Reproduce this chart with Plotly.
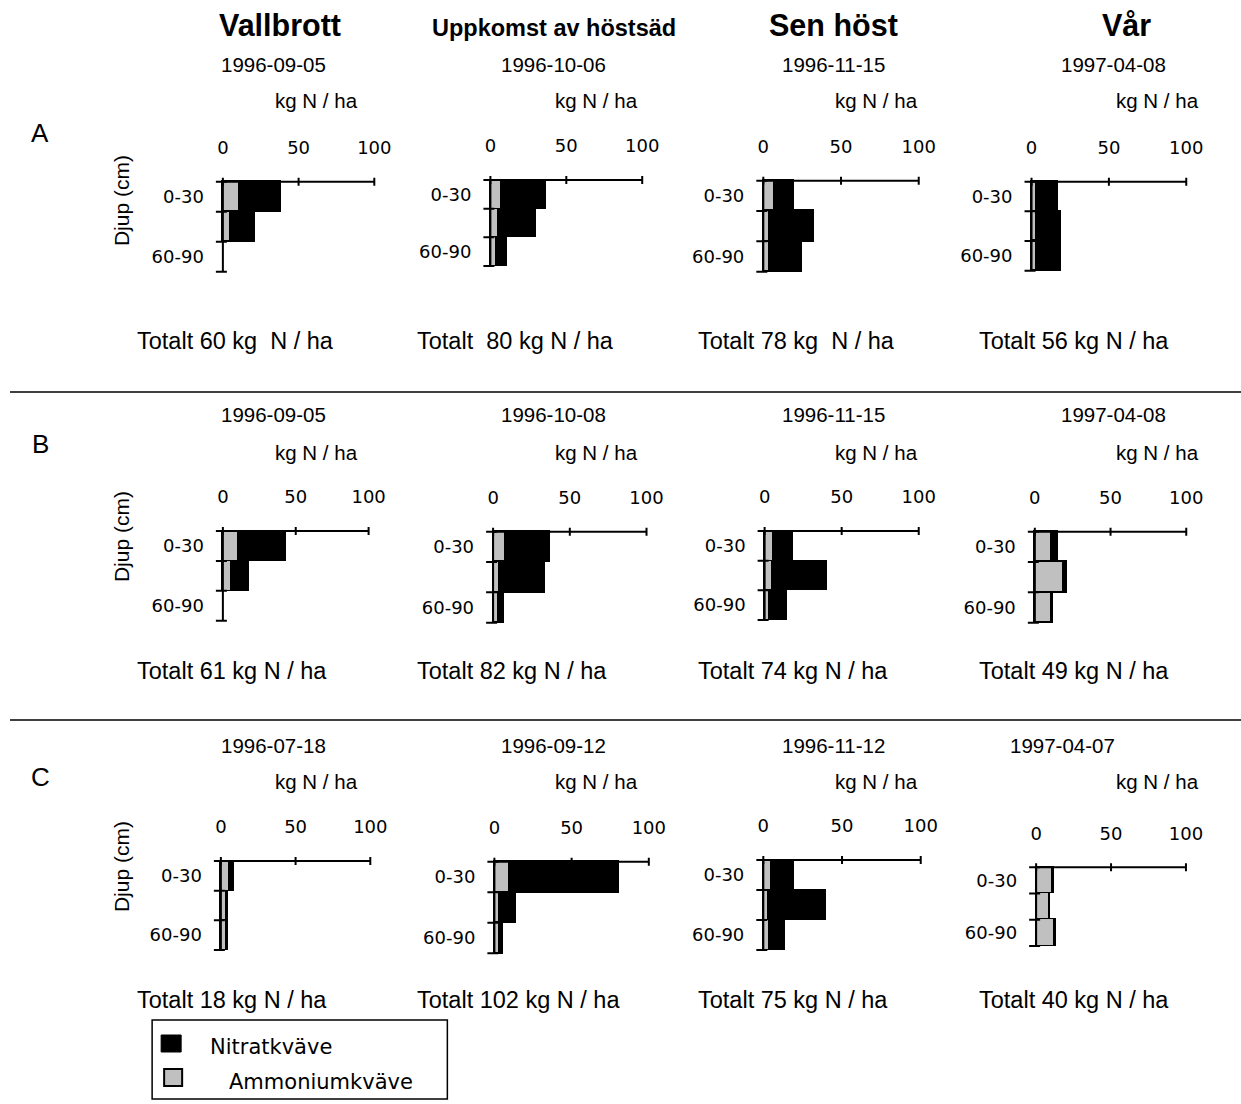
import plotly.graph_objects as go

# canvas size in pixels; horizontal positions below are given on a 1241 px grid
W, H = 1255, 1100
XS = W / 1241.0

# ---- data ---------------------------------------------------------------
ROW_LABELS = ["A", "B", "C"]
HEADERS = ["Vallbrott", "Uppkomst av höstsäd", "Sen höst", "Vår"]
DEPTH_TICKS = ["0-30", "60-90"]
X_TICKS = [0, 50, 100]
UNIT = "kg N / ha"

DATES_A = ["1996-09-05", "1996-10-06", "1996-11-15", "1997-04-08"]
DATES_B = ["1996-09-05", "1996-10-08", "1996-11-15", "1997-04-08"]
DATES_C = ["1996-07-18", "1996-09-12", "1996-11-12", "1997-04-07"]

TOTALS_A = ["Totalt 60 kg\u00a0 N / ha", "Totalt\u00a0 80 kg N / ha",
            "Totalt 78 kg\u00a0 N / ha", "Totalt 56 kg N / ha"]
TOTALS_B = ["Totalt 61 kg N / ha", "Totalt 82 kg N / ha",
            "Totalt 74 kg N / ha", "Totalt 49 kg N / ha"]
TOTALS_C = ["Totalt 18 kg N / ha", "Totalt 102 kg N / ha",
            "Totalt 75 kg N / ha", "Totalt 40 kg N / ha"]

# kg N / ha per depth layer (0-30, 30-60, 60-90), one list per panel
NH4_A = [[11, 5, None], [7, 5, 4], [7, 4, 4], [3, 3, 3]]
NO3_A = [[27, 16, None], [30, 25, 7], [13, 29, 21], [14, 16, 16]]
NH4_B = [[11, 6, None], [8, 4, 3], [6, 5, 3], [11, 19, 11]]
NO3_B = [[32, 12, None], [29, 30, 4], [12, 35, 11], [4, 2, 1]]
NH4_C = [[6, 4, 4], [10, 3, 3], [5, 3, 4], [11, 9, 12]]
NO3_C = [[3, 0.5, 0.5], [71, 11, 3], [15, 37, 10], [1, 0.5, 1.5]]

# ---- panel geometry (pixels) -------------------------------------------
# x pixel of value 0 and value 100 for every panel
X0 = [[222.7, 490, 762.7, 1030.7], [222.7, 492.7, 764, 1034], [220.7, 494, 762.7, 1035.3]]
X100 = [[374, 641.7, 918, 1185.3], [368.3, 646, 918, 1185.3], [370, 648.3, 920, 1185]]
# y pixel of the top of the 0-30 layer and the bottom of the 60-90 layer
YTOP = [[181.7, 180, 180.7, 181.7], [531, 531.7, 531, 531.7], [861, 861.7, 860, 867.3]]
YBOT = [[271.7, 266, 271.7, 270.7], [620.7, 622.7, 620, 622.7], [950, 953.3, 950, 946]]

DATE_CX = [[273, 553, 833, 1113], [273, 553, 833, 1113], [273, 553, 833, 1062]]
UNIT_CX = [316, 596, 876, 1157]
HEADER_CX = [280, 554, 833, 1126]
TOTAL_X = [135, 415, 695, 976]
HEADER_Y = [25, 28, 25, 25]
DATE_Y = [65, 415, 745]
UNIT_Y = [100, 452, 781]
TOTAL_Y = [341, 671, 1000]
LETTER_Y = [133, 444, 777]
DJUP_Y = [201, 537, 867]

GRAY = "#c0c0c0"
AXIS_W = 2
BAR_LINE = 1.5
TICK_FONT = dict(family="DejaVu Sans", size=18, color="black")
TEXT_FONT = "Liberation Sans, Arial, sans-serif"


def fx(xp):
    """Horizontal pixel on the 1241 grid to paper fraction."""
    return xp * XS / W


def fy(yp):
    """Vertical pixel from the top to paper fraction."""
    return 1 - yp / H


nh4 = [NH4_A, NH4_B, NH4_C]
no3 = [NO3_A, NO3_B, NO3_C]
dates = [DATES_A, DATES_B, DATES_C]
totals = [TOTALS_A, TOTALS_B, TOTALS_C]

fig = go.Figure()
shapes = []
annotations = []
layout_axes = {}


def text(xp, yp, s, size, anchor="center", family=TEXT_FONT, **kw):
    annotations.append(dict(x=fx(xp), y=fy(yp), xref="paper", yref="paper", text=s, showarrow=False,
                            xanchor=anchor, yanchor="middle",
                            font=dict(family=family, size=size, color="black"), **kw))


layers = [0.5, 1.5, 2.5]
PAD_L, PAD_R, PAD_V = 10, 4, 6

idx = 0
for r in range(3):
    for c in range(4):
        idx += 1
        xs = "" if idx == 1 else str(idx)
        xa, ya = "x" + xs, "y" + xs
        x0, x100 = X0[r][c], X100[r][c]
        yt, yb = YTOP[r][c], YBOT[r][c]
        u = (x100 - x0) / 100.0
        band = (yb - yt) / 3.0

        # stacked horizontal bars: ammonium first, nitrate on top of it
        fig.add_trace(go.Bar(
            x=nh4[r][c], y=layers, orientation="h", width=1,
            name="Ammoniumkväve", marker=dict(color=GRAY, line=dict(color="black", width=BAR_LINE)),
            xaxis=xa, yaxis=ya, showlegend=False, hoverinfo="x+name"))
        fig.add_trace(go.Bar(
            x=no3[r][c], y=layers, orientation="h", width=1,
            name="Nitratkväve", marker=dict(color="black", line=dict(color="black", width=BAR_LINE)),
            xaxis=xa, yaxis=ya, showlegend=False, hoverinfo="x+name"))

        left = x0 - PAD_L
        right = x100 + PAD_R
        top = yt - PAD_V
        bot = yb + PAD_V
        layout_axes["xaxis" + xs] = dict(
            domain=[fx(left), fx(right)], anchor=ya, side="top",
            range=[-PAD_L / u, 100 + PAD_R / u],
            tickvals=X_TICKS, ticks="", showgrid=False, zeroline=False, showline=False,
            tickfont=TICK_FONT, ticklabelstandoff=17, fixedrange=True)
        layout_axes["yaxis" + xs] = dict(
            domain=[fy(bot), fy(top)], anchor=xa,
            range=[3 + PAD_V / band, -PAD_V / band],
            tickvals=[0.5, 2.5], ticktext=DEPTH_TICKS, ticks="",
            showgrid=False, zeroline=False, showline=False,
            tickfont=TICK_FONT, ticklabelstandoff=8, fixedrange=True)

        line = dict(color="black", width=AXIS_W)
        # top value axis
        shapes.append(dict(type="line", xref=xa, yref=ya, x0=0, x1=100, y0=0, y1=0, line=line))
        for t in X_TICKS:
            shapes.append(dict(type="line", xref=xa, yref=ya, ysizemode="pixel", yanchor=0,
                               x0=t, x1=t, y0=-4, y1=4, line=line))
        # depth axis with layer boundary ticks
        shapes.append(dict(type="line", xref=xa, yref=ya, x0=0, x1=0, y0=0, y1=3, line=line))
        for b in range(4):
            shapes.append(dict(type="line", xref=xa, yref=ya, xsizemode="pixel", xanchor=0,
                               x0=-7, x1=4, y0=b, y1=b, line=line))

        # date, unit and total texts
        text(DATE_CX[r][c], DATE_Y[r], dates[r][c], 20.5)
        text(UNIT_CX[c], UNIT_Y[r], UNIT, 20.5)
        text(TOTAL_X[c], TOTAL_Y[r], totals[r][c], 23.5, anchor="left")

# column headers
for c, h in enumerate(HEADERS):
    text(HEADER_CX[c], HEADER_Y[c], "<b>%s</b>" % h, 23.5 if c == 1 else 30.5)

# row letters and depth axis titles
for r, lab in enumerate(ROW_LABELS):
    text(40, LETTER_Y[r], lab, 26)
    text(121, DJUP_Y[r], "Djup (cm)", 21, textangle=-90)

# separators between the three rows
for yy in (392, 720):
    shapes.append(dict(type="line", xref="paper", yref="paper", x0=fx(10), x1=1,
                       y0=fy(yy), y1=fy(yy), line=dict(color="black", width=1.5)))

# legend box
shapes.append(dict(type="rect", xref="paper", yref="paper", x0=fx(152), x1=fx(447),
                   y0=fy(1099), y1=fy(1020), line=dict(color="black", width=1.5),
                   fillcolor="white"))
shapes.append(dict(type="rect", xref="paper", yref="paper", x0=fx(161), x1=fx(181),
                   y0=fy(1052), y1=fy(1035), line=dict(color="black", width=1),
                   fillcolor="black"))
shapes.append(dict(type="rect", xref="paper", yref="paper", x0=fx(164), x1=fx(182),
                   y0=fy(1086), y1=fy(1069), line=dict(color="black", width=2),
                   fillcolor=GRAY))
text(208, 1047, "Nitratkväve", 21, anchor="left", family="DejaVu Sans")
text(227, 1082, "Ammoniumkväve", 21, anchor="left", family="DejaVu Sans")

fig.update_layout(
    width=W, height=H, autosize=False,
    margin=dict(l=0, r=0, t=0, b=0),
    paper_bgcolor="white", plot_bgcolor="rgba(0,0,0,0)",
    barmode="stack", bargap=0, showlegend=False,
    shapes=shapes, annotations=annotations,
    **layout_axes)

fig.write_html("out.html")
